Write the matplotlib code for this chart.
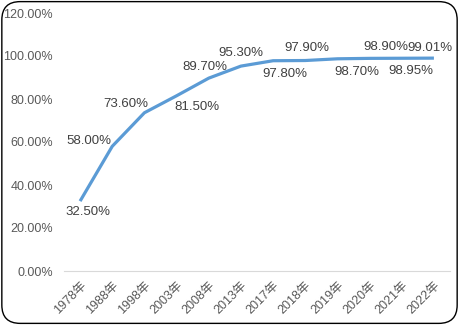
import matplotlib.pyplot as plt
from matplotlib.patches import FancyBboxPatch
from matplotlib.ticker import FuncFormatter

plt.rcParams['font.family'] = ['Liberation Sans', 'Noto Sans CJK SC', 'DejaVu Sans']

years = ['1978年', '1988年', '1998年', '2003年', '2008年', '2013年',
         '2017年', '2018年', '2019年', '2020年', '2021年', '2022年']
rate = [32.50, 58.00, 73.60, 81.50, 89.70, 95.30,
        97.80, 97.90, 98.70, 98.90, 98.95, 99.01]
# pixel offsets of the data labels from their points
label_offsets = [(8, -11), (-23, 5), (-19, 9), (20, -11), (-4, 11), (0, 13),
                 (12, -13), (2, 13), (19, -13), (16, 11), (9, -13), (-4, 10)]

fig = plt.figure(figsize=(4.59, 3.25), dpi=100)
ax = fig.add_axes([64 / 459, 1 - 271 / 325, 386 / 459, 258 / 325])

x = list(range(len(years)))
vals = [v / 100 for v in rate]
ax.plot(x, vals, color='#5B9BD5', linewidth=2.3, solid_capstyle='butt')

txt_color = '#404040'
for xi, yi, v, off in zip(x, vals, rate, label_offsets):
    ax.annotate('%.2f%%' % v, xy=(xi, yi), xytext=off, textcoords='offset pixels',
                ha='center', va='center', fontsize=9.5, color=txt_color)

ax.set_xlim(-0.5, len(years) - 0.5)
ax.set_ylim(0, 1.2)
ax.set_yticks([0, 0.2, 0.4, 0.6, 0.8, 1.0, 1.2])
ax.yaxis.set_major_formatter(FuncFormatter(lambda v, p: '%.2f%%' % (v * 100)))
ax.set_xticks(x)
ax.set_xticklabels(years, rotation=45, ha='right', rotation_mode='anchor')
ax.tick_params(length=0, labelsize=9, colors='#595959', pad=8)
ax.tick_params(axis='x', labelsize=9, pad=6)
for s in ['top', 'right', 'left']:
    ax.spines[s].set_visible(False)
ax.spines['bottom'].set_color('#d9d9d9')
ax.spines['bottom'].set_linewidth(0.8)

# rounded frame around the chart
frame = FancyBboxPatch((0.004, 0.005), 0.992, 0.99, boxstyle='round,pad=0,rounding_size=0.04',
                       transform=fig.transFigure, facecolor='none', edgecolor='black',
                       linewidth=1.0, mutation_aspect=459 / 325)
fig.patches.append(frame)

fig.savefig('out.png', dpi=100)
